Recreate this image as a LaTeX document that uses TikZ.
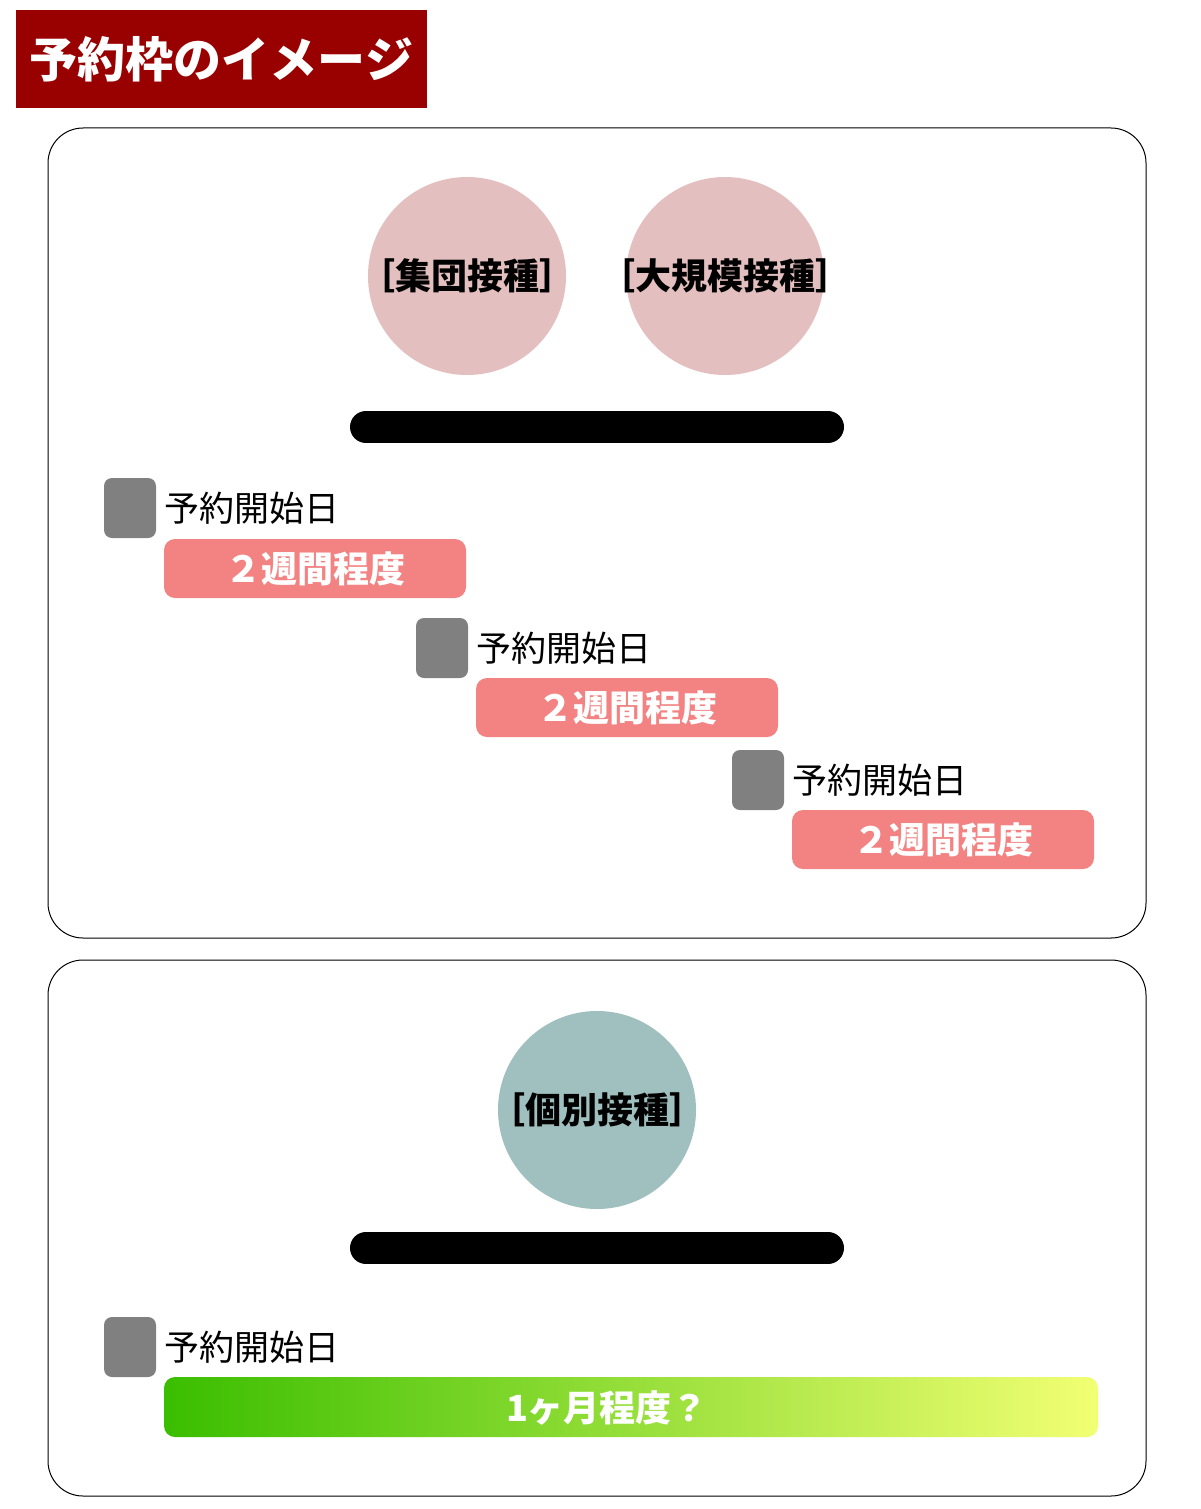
\documentclass[tikz,border=0pt]{standalone}
\usepackage{fontspec}
\newfontfamily\cjk{Noto Sans CJK JP}
\definecolor{titlered}{HTML}{990000}
\definecolor{pinkc}{HTML}{E3BFBF}
\definecolor{tealc}{HTML}{A0BFBF}
\definecolor{pinkbox}{HTML}{F38282}
\definecolor{grayc}{HTML}{808080}
\definecolor{greenl}{HTML}{3ABE00}
\definecolor{greenr}{HTML}{F2FF73}
\tikzset{
  titlebox/.style={fill=titlered, text=white, inner sep=0, minimum width=411pt, minimum height=98pt, font=\cjk\bfseries\fontsize{48}{56}\selectfont},
  panel/.style={draw=black, line width=1pt, rounded corners=35pt, inner sep=0},
  bubble/.style={circle, inner sep=0, minimum size=198pt},
  bubbletext/.style={inner sep=0, font=\cjk\bfseries\fontsize{36}{42}\selectfont},
  bar/.style={line width=32pt, line cap=round, black},
  marker/.style={fill=grayc, rounded corners=8pt, inner sep=0, minimum width=52pt, minimum height=60pt},
  starttext/.style={anchor=west, inner sep=0, font=\cjk\fontsize{35}{41}\selectfont},
  periodbox/.style={fill=pinkbox, rounded corners=11pt, inner sep=0, minimum width=302pt, minimum height=59pt, text=white, font=\cjk\bfseries\fontsize{36}{42}\selectfont},
  monthtext/.style={inner sep=0, text=white, font=\cjk\bfseries\fontsize{36}{42}\selectfont}
}
\begin{document}
\begin{tikzpicture}[x=1pt,y=-1pt]
\useasboundingbox (0,0) rectangle (1200,1509);
\fill[white] (0,0) rectangle (1200,1509);
% title
\node[titlebox] (title) at (221.5,59) {予約枠のイメージ};
% panels
\node[panel, minimum width=1098pt, minimum height=810pt] (p1) at (597,533) {};
\node[panel, minimum width=1098pt, minimum height=536pt] (p2) at (597,1228) {};
% circles
\node[bubble, fill=pinkc] (c1) at (467,276) {};
\node[bubble, fill=pinkc] (c2) at (725,276) {};
\node[bubbletext] (t1) at (c1) {［集団接種］};
\node[bubbletext] (t2) at (c2) {［大規模接種］};
\node[bubble, fill=tealc] (c3) at (597,1110) {};
\node[bubbletext] (t3) at (c3) {［個別接種］};
% bars
\coordinate (b1l) at (366,427);
\coordinate (b1r) at (828,427);
\draw[bar] (b1l) -- (b1r);
\coordinate (b2l) at (366,1248);
\coordinate (b2r) at (828,1248);
\draw[bar] (b2l) -- (b2r);
% row 1
\node[marker] (m1) at (130,508) {};
\node[starttext] (s1) at (164,508) {予約開始日};
\node[periodbox] (r1) at (315,568.5) {２週間程度};
% row 2
\node[marker] (m2) at (442,648) {};
\node[starttext] (s2) at (476,648) {予約開始日};
\node[periodbox] (r2) at (627,707.5) {２週間程度};
% row 3
\node[marker] (m3) at (758,780) {};
\node[starttext] (s3) at (792,780) {予約開始日};
\node[periodbox] (r3) at (943,839.5) {２週間程度};
% row 4
\node[marker] (m4) at (130,1347) {};
\node[starttext] (s4) at (164,1347) {予約開始日};
\shade[left color=greenl, right color=greenr, rounded corners=11pt] (164,1377) rectangle (1098,1437);
\node[monthtext] (r4) at (607,1408) {1ヶ月程度？};
\end{tikzpicture}
\end{document}
